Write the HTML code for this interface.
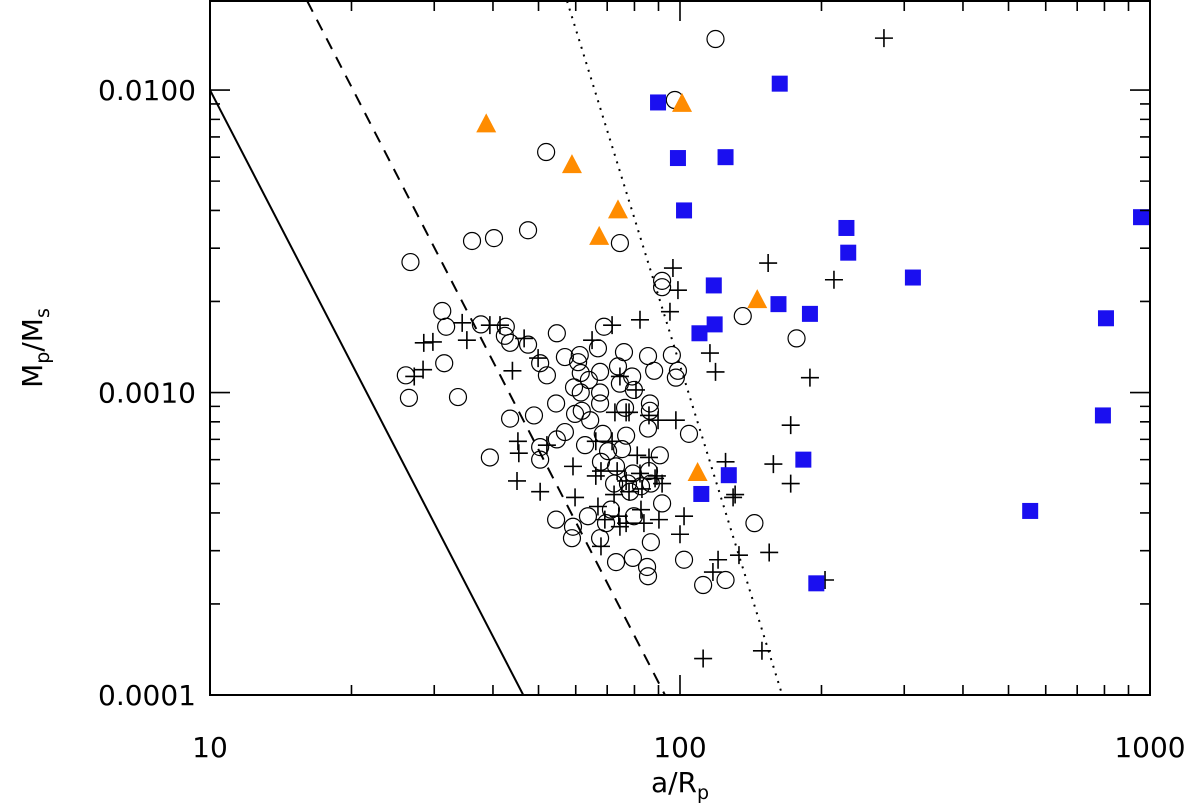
<!DOCTYPE html>
<html><head><meta charset="utf-8"><style>
html,body{margin:0;padding:0;background:#fff;}
svg{display:block;font-family:"DejaVu Sans","Liberation Sans",sans-serif;}
</style></head><body>
<svg id="chart" width="1200" height="810" viewBox="0 0 1200 810">
<g id="lines"></g>
<g id="marks"></g>
<g id="axes"></g>
<text x="680" y="792" font-size="28" text-anchor="middle">a/R<tspan font-size="19" dy="7">p</tspan></text>
<text transform="translate(42,348) rotate(-90)" font-size="28" text-anchor="middle">M<tspan font-size="19" dy="7">p</tspan><tspan dy="-7">/M</tspan><tspan font-size="19" dy="7">s</tspan></text>
</svg>
<script>
const squaresX=[89.8,99,163,125,102,226,228,313,957,118,162,118.5,110,189,806,794,183,127,111,556,195];
const squaresY=[0.0091,0.00596,0.0105,0.0060,0.0040,0.0035,0.0029,0.0024,0.0038,0.00226,0.00196,0.00168,0.00157,0.00182,0.00176,0.00084,0.00060,0.000533,0.000462,0.000406,0.000234];
const triX=[38.7,58.9,73.8,67.3,101,146,109];
const triY=[0.0077,0.00565,0.0040,0.00327,0.0090,0.00202,0.000542];
const circX=[119,97.5,51.9,26.7,36.1,40.2,47.5,74.5,91.6,91.6,31.2,31.8,37.7,42.6,42.4,43.5,54.7,61.2,68.9,76.0,85.5,96.1,26.1,26.5,31.5,33.7,47.5,50.4,52.1,56.9,60.7,61.5,66.9,67.6,73.8,79.1,88.1,99,98,59.5,61.5,64.0,67.6,74.5,79.8,86.3,61.8,64.4,86.3,48.9,54.5,59.8,67.6,76.4,43.5,39.4,50.4,54.7,56.9,68.5,76.8,85.5,104.5,50.4,62.8,70.3,75.3,90.6,67.9,73.1,79.4,85.9,72.4,78.3,71.3,82.6,54.5,59.2,69.6,63.7,91.6,67.6,79.8,58.9,73.1,79.4,85.1,85.5,102,112,125,144,136,177,77.5,86.7,86.7];
const circY=[0.01475,0.00927,0.00624,0.0027,0.00317,0.00324,0.00344,0.00312,0.00234,0.00223,0.00186,0.00165,0.00168,0.00165,0.00154,0.00146,0.00157,0.00133,0.00165,0.00136,0.00132,0.00133,0.00114,0.00096,0.00125,0.000966,0.00144,0.00125,0.00114,0.00131,0.00126,0.00116,0.0014,0.00117,0.00122,0.00113,0.00118,0.00118,0.00112,0.00104,0.0010,0.0011,0.001,0.00107,0.00102,0.00092,0.00087,0.00081,0.00087,0.00084,0.00092,0.00085,0.00092,0.00089,0.00082,0.00061,0.00066,0.0007,0.00074,0.00073,0.00072,0.00076,0.00073,0.0006,0.00067,0.00064,0.00065,0.00062,0.00059,0.00057,0.00054,0.00055,0.0005,0.00047,0.00041,0.00049,0.00038,0.00036,0.00037,0.00039,0.00043,0.00033,0.00039,0.00033,0.000275,0.000284,0.000265,0.000247,0.00028,0.000231,0.00024,0.00037,0.00179,0.00151,0.0005,0.0005,0.00032];
const plusX=[271.6,154,212.6,96.6,99,95.2,82.2,71.7,65,39.4,41.4,34.4,35.2,46.6,29.8,28.5,28.4,27.2,44,49.9,115.8,119,189,74.5,80.6,76.8,72.7,77.9,85.9,89.8,98,172,45.2,45.4,52.1,59.2,67.9,66.2,73.5,82.2,89.3,76.8,72.4,77.9,83,74.1,76.8,82.6,50.4,45,59.8,66.9,69.2,74.5,83.8,67.9,125,158,172,129.7,131,120.5,117.5,133.5,154.8,203.5,112,149.4,90.2,91.6,85.9,102,100,71.7,81.1,88.5,66.2];
const plusY=[0.01485,0.00268,0.00236,0.00258,0.00218,0.00185,0.00174,0.00167,0.00149,0.00167,0.00167,0.0017,0.00149,0.00151,0.00147,0.00146,0.00119,0.00113,0.00118,0.0013,0.00135,0.00117,0.00112,0.00113,0.00102,0.00086,0.00086,0.00086,0.00084,0.00081,0.00081,0.00078,0.00069,0.00063,0.00067,0.00057,0.00055,0.00053,0.00055,0.00054,0.00053,0.00051,0.00046,0.00047,0.00048,0.00039,0.00037,0.00041,0.00047,0.00051,0.00045,0.00042,0.00038,0.00036,0.00037,0.00031,0.00059,0.00058,0.0005,0.00045,0.00046,0.00028,0.000255,0.00029,0.000296,0.00024,0.000132,0.00014,0.00038,0.0005,0.00061,0.00039,0.00034,0.00069,0.00062,0.00052,0.00069];
const solidLine=[[10,0.01],[46.4,0.0001]];
const dashedLine=[[16.1,0.0197],[92.9,0.0001]];
const dottedLine=[[57.5,0.0197],[165,0.0001]];
const xTickLabels=["10","100","1000"];
const yTickLabels=["0.0001","0.0010","0.0100"];

const L=210,R=1150,T=1,B=695;
const xmin=1,xmax=3,ymin=-4,ymax=Math.log10(0.0197);
function sx(v){return L+(Math.log10(v)-xmin)/(xmax-xmin)*(R-L);}
function sy(v){return B-(Math.log10(v)-ymin)/(ymax-ymin)*(B-T);}
const NS="http://www.w3.org/2000/svg";
function mk(tag,parent,attrs){const e=document.createElementNS(NS,tag);for(const k in attrs)e.setAttribute(k,attrs[k]);parent.appendChild(e);return e;}
const lines=document.getElementById('lines'),marks=document.getElementById('marks'),axes=document.getElementById('axes');

[[solidLine,'',"solid-line"],[dashedLine,'12 9',"dashed-line"],[dottedLine,'2 6',"dotted-line"]].forEach(([d,da,n])=>{
 const e=mk('line',lines,{x1:sx(d[0][0]),y1:sy(d[0][1]),x2:sx(d[1][0]),y2:sy(d[1][1]),stroke:'#000','stroke-width':2,'stroke-dasharray':da});
 
 
});

circX.forEach((x,i)=>{const e=mk('circle',marks,{cx:sx(x),cy:sy(circY[i]),r:8.5,fill:'none',stroke:'#000','stroke-width':1.2});
 
 });
plusX.forEach((x,i)=>{const cx=sx(x),cy=sy(plusY[i]);const e=mk('path',marks,{d:`M${cx-9} ${cy}H${cx+9}M${cx} ${cy-9}V${cy+9}`,stroke:'#000','stroke-width':1.6});
 
 });
squaresX.forEach((x,i)=>{const cx=sx(x),cy=sy(squaresY[i]);const e=mk('rect',marks,{x:cx-8,y:cy-8,width:16,height:16,fill:'#1a0ff0'});
 
 });
triX.forEach((x,i)=>{const cx=sx(x),cy=sy(triY[i]);const e=mk('polygon',marks,{points:`${cx},${cy-11} ${cx+10},${cy+8} ${cx-10},${cy+8}`,fill:'#ff8c00'});
 
 });

const frame=mk('rect',axes,{x:L,y:T,width:R-L,height:B-T,fill:'none',stroke:'#000','stroke-width':2});


let tp='';
for(let dec=1;dec<=3;dec++){for(let m=1;m<=9;m++){const v=m*Math.pow(10,dec);if(v>1000)break;const x=sx(v);const len=m===1?20:10;tp+=`M${x} ${B}V${B-len}M${x} ${T}V${T+len}`;}}
for(let dec=-4;dec<=-2;dec++){for(let m=1;m<=9;m++){const v=m*Math.pow(10,dec);if(v>0.0197)break;const y=sy(v);const len=m===1?20:10;tp+=`M${L} ${y}H${L+len}M${R} ${y}H${R-len}`;}}
const ticks=mk('path',axes,{d:tp,stroke:'#000','stroke-width':1.6,fill:'none'});


xTickLabels.forEach(t=>{const e=mk('text',axes,{x:sx(+t),y:757,'font-size':28,'text-anchor':'middle'});e.textContent=t;
 
 });
yTickLabels.forEach(t=>{const e=mk('text',axes,{x:196,y:sy(+t)+10,'font-size':28,'text-anchor':'end'});e.textContent=t;
 
 });
</script>
</body></html>
